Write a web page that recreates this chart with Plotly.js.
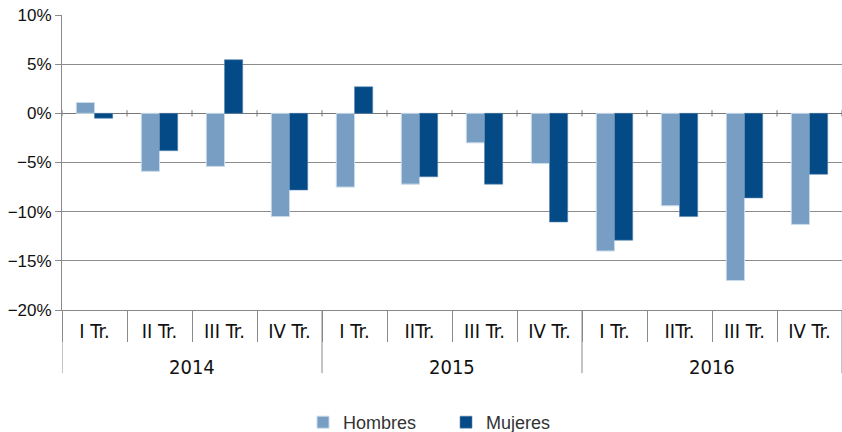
<!DOCTYPE html>
<html>
<head>
<meta charset="utf-8">
<script src="https://cdn.plot.ly/plotly-3.0.1.min.js"></script>
<style>html,body{margin:0;padding:0;background:#fff;}#chart{width:842px;height:432px;}</style>
</head>
<body>
<div id="chart"></div>
<script>
const years = ["2014","2014","2014","2014","2015","2015","2015","2015","2016","2016","2016","2016"];
const quarters = ["I Tr.","II Tr.","III Tr.","IV Tr.","I Tr.","IITr.","III Tr.","IV Tr.","I Tr.","IITr.","III Tr.","IV Tr."];
const hombres = [1.1, -5.9, -5.4, -10.5, -7.5, -7.2, -3.0, -5.1, -14.0, -9.4, -17.0, -11.3];
const mujeres = [-0.5, -3.8, 5.45, -7.8, 2.7, -6.45, -7.2, -11.05, -12.9, -10.5, -8.6, -6.2];

const font = "Liberation Sans, Arial, Helvetica, sans-serif";
const narrow = "Liberation Sans Narrow, Arial Narrow, DejaVu Sans Condensed, sans-serif";
const idx = quarters.map((_, i) => i);
const n = quarters.length;
const gridCol = "#8a8a8a";

const traces = [
  {type:"bar", name:"Hombres", x:idx, y:hombres,
   marker:{color:"#789fc3", line:{color:"#c9dbea", width:1}}},
  {type:"bar", name:"Mujeres", x:idx, y:mujeres,
   marker:{color:"#034a86", line:{color:"#5a86b0", width:0.6}}}
];

// year groups: centers and boundaries derived from the years array
const uniqYears = [...new Set(years)];
const yearCenters = uniqYears.map(y => {
  const ii = idx.filter(i => years[i] === y);
  return (ii[0] + ii[ii.length - 1]) / 2;
});
const yearBounds = [-0.5];
for (let i = 1; i < n; i++) if (years[i] !== years[i-1]) yearBounds.push(i - 0.5);
yearBounds.push(n - 0.5);

const shapes = [];
yearBounds.forEach(b => shapes.push({type:"line", xref:"x", yref:"paper", x0:b, x1:b, y0:0, y1:-0.214,
  line:{color:gridCol, width:1}}));
// small tick marks crossing the 0% line at each category boundary
for (let k = 0; k <= n; k++) {
  shapes.push({type:"line", xref:"x", yref:"y", x0:k-0.5, x1:k-0.5, y0:-0.32, y1:0.32,
    line:{color:"#777", width:1}});
}
const annotations = uniqYears.map((y, j) => ({
  text:y, xref:"x", yref:"paper", x:yearCenters[j], y:-0.192, yanchor:"middle", xanchor:"center",
  showarrow:false, font:{family:narrow, size:20, color:"#111"}
}));

const layout = {
  width:842, height:432,
  margin:{l:62, r:0, t:15, b:122},
  paper_bgcolor:"#fff", plot_bgcolor:"#fff",
  font:{family:font, size:16, color:"#111"},
  barmode:"group", bargap:0.44, bargroupgap:0,
  showlegend:true,
  legend:{orientation:"h", x:0.309, xanchor:"left", yref:"container", y:0.022, yanchor:"middle",
          font:{family:font, size:18, color:"#333"}, itemwidth:30, tracegroupgap:0,
          entrywidth:98, entrywidthmode:"pixels"},
  xaxis:{range:[-0.5, n-0.5], autorange:false, tickmode:"array", tickvals:idx, ticktext:quarters,
         showgrid:false, zeroline:false, showline:true, linecolor:gridCol, linewidth:1,
         ticks:"", ticklabelstandoff:3,
         minor:{ticks:"outside", tick0:-0.5, dtick:1, ticklen:31, tickcolor:gridCol, tickwidth:1, showgrid:false},
         tickfont:{family:narrow, size:20, color:"#111"}},
  yaxis:{range:[-20,10], dtick:5, ticksuffix:"%", showgrid:true, gridcolor:"#8c8c8c", gridwidth:1,
         zeroline:true, zerolinecolor:"#777", zerolinewidth:1,
         showline:true, linecolor:gridCol, linewidth:1,
         ticks:"outside", ticklen:6, tickcolor:gridCol,
         tickfont:{family:font, size:17, color:"#111"}},
  shapes:shapes,
  annotations:annotations
};
Plotly.newPlot("chart", traces, layout, {displayModeBar:false, staticPlot:true});
</script>
</body>
</html>
